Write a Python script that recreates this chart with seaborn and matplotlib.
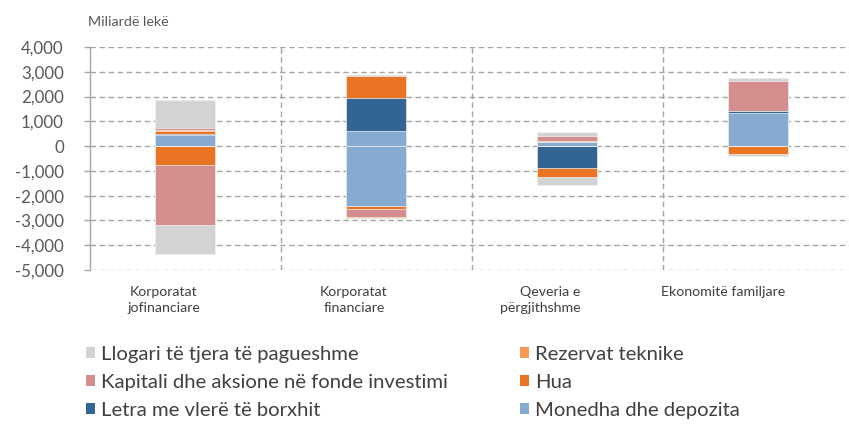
import numpy as np
import pandas as pd
import matplotlib
matplotlib.use("Agg")
import matplotlib.pyplot as plt
import seaborn as sns
from matplotlib.patches import Patch
from matplotlib.ticker import FuncFormatter, MultipleLocator

# sectors on the x axis
sectors = ["Korporatat\njofinanciare", "Korporatat\nfinanciare",
           "Qeveria e\npërgjithshme", "Ekonomitë familjare"]

# instruments (legend names)
instruments = ["Llogari të tjera të pagueshme", "Rezervat teknike",
               "Kapitali dhe aksione në fonde investimi", "Hua",
               "Letra me vlerë të borxhit", "Monedha dhe depozita"]

# positive side, billion lek
pos_monedha = [460, 605, 150, 1345]
pos_letra = [40, 1330, 0, 90]
pos_hua = [95, 875, 0, 0]
pos_rezervat = [55, 30, 55, 0]
pos_kapitali = [70, 50, 190, 1180]
pos_llogari = [1135, 0, 190, 135]

# negative side, billion lek
neg_monedha = [0, -2430, 0, 0]
neg_letra = [0, 0, -900, 0]
neg_hua = [-780, -95, -365, -335]
neg_kapitali = [-2420, -340, 0, 0]
neg_rezervat = [0, -40, 0, 0]
neg_llogari = [-1150, 0, -295, -70]

colors = {
    "Llogari të tjera të pagueshme": "#D2D3D2",
    "Rezervat teknike": "#F79A55",
    "Kapitali dhe aksione në fonde investimi": "#D48E8D",
    "Hua": "#E87424",
    "Letra me vlerë të borxhit": "#336594",
    "Monedha dhe depozita": "#87ABD0",
}

pos_stack = [("Monedha dhe depozita", pos_monedha),
             ("Letra me vlerë të borxhit", pos_letra),
             ("Hua", pos_hua),
             ("Rezervat teknike", pos_rezervat),
             ("Kapitali dhe aksione në fonde investimi", pos_kapitali),
             ("Llogari të tjera të pagueshme", pos_llogari)]
neg_stack = [("Monedha dhe depozita", neg_monedha),
             ("Letra me vlerë të borxhit", neg_letra),
             ("Hua", neg_hua),
             ("Kapitali dhe aksione në fonde investimi", neg_kapitali),
             ("Rezervat teknike", neg_rezervat),
             ("Llogari të tjera të pagueshme", neg_llogari)]

sns.set_theme(style="white")
plt.rcParams['font.family'] = ['Lato', 'DejaVu Sans']

W, H = 849, 426
fig = plt.figure(figsize=(W / 100, H / 100), dpi=100)
ax = fig.add_axes([89.5 / W, 1 - 270 / H, (853.5 - 89.5) / W, (270 - 47) / H])

grid_c = "#A5A5A5"
bar_w = 0.314

# stacked bars: draw cumulative totals from the outermost layer inwards
for stack in (pos_stack, neg_stack):
    cum = np.cumsum([vals for _, vals in stack], axis=0)
    for (name, _), tot in reversed(list(zip(stack, cum))):
        df = pd.DataFrame({"sector": sectors, "value": tot})
        sns.barplot(data=df, x="sector", y="value", order=sectors,
                    color=colors[name], saturation=1, width=bar_w,
                    errorbar=None, ax=ax, edgecolor="#F2F2F2",
                    linewidth=0.5, zorder=3)

ax.set_xlim(-0.5, 3.5)
ax.set_ylim(-5000, 4000)
ax.yaxis.set_major_locator(MultipleLocator(1000))
ax.yaxis.set_major_formatter(FuncFormatter(lambda v, p: f"{v:,.0f}"))
ax.set_xlabel("")
ax.set_ylabel("")
ax.set_xticks([])

# dashed grid
dash = (0, (4, 2.5))
for yv in range(-5000, 4001, 1000):
    ax.axhline(yv, color=grid_c, lw=1, ls=dash, zorder=1)
for xv in (0.5, 1.5, 2.5, 3.5):
    ax.axvline(xv, color=grid_c, lw=1, ls=dash, zorder=1)

for s in ("top", "right", "bottom"):
    ax.spines[s].set_visible(False)
ax.spines["left"].set_color(grid_c)
ax.spines["left"].set_linewidth(1)
ax.tick_params(axis="y", length=4.5, width=1, color=grid_c, pad=14,
               labelsize=12.2, labelcolor="#595959", left=True)

# category labels (Excel places them slightly left of the bar centres)
lab_dx = [-21, -22, -27, -35]
for i, (lab, dx) in enumerate(zip(sectors, lab_dx)):
    x_fig = (89.5 + 191 * (i + 0.5) + dx) / W
    ma = "right" if i == 2 else "center"
    fig.text(x_fig, 1 - 286 / H, lab, ha="center", va="top",
             fontsize=10.2, color="#404040", multialignment=ma,
             linespacing=1.4)

fig.text(88 / W, 1 - 22 / H, "Miliardë lekë", ha="left", va="center",
         fontsize=10.3, color="#595959")

# legend, row-wise like Excel
leg_order = ["Llogari të tjera të pagueshme",
             "Kapitali dhe aksione në fonde investimi",
             "Letra me vlerë të borxhit",
             "Rezervat teknike", "Hua", "Monedha dhe depozita"]
handles = [Patch(facecolor=colors[n], edgecolor="none", label=n) for n in leg_order]
fig.legend(handles=handles, ncol=2, loc="upper left",
           bbox_to_anchor=(86 / W, 1 - 350 / H, (740 - 86) / W, 0.01),
           mode="expand", frameon=False, fontsize=14.6, labelcolor="#404040",
           handlelength=0.43, handleheight=0.43, handletextpad=0.3,
           labelspacing=0.55, borderpad=0, borderaxespad=0)

fig.savefig("out.png", dpi=100)
